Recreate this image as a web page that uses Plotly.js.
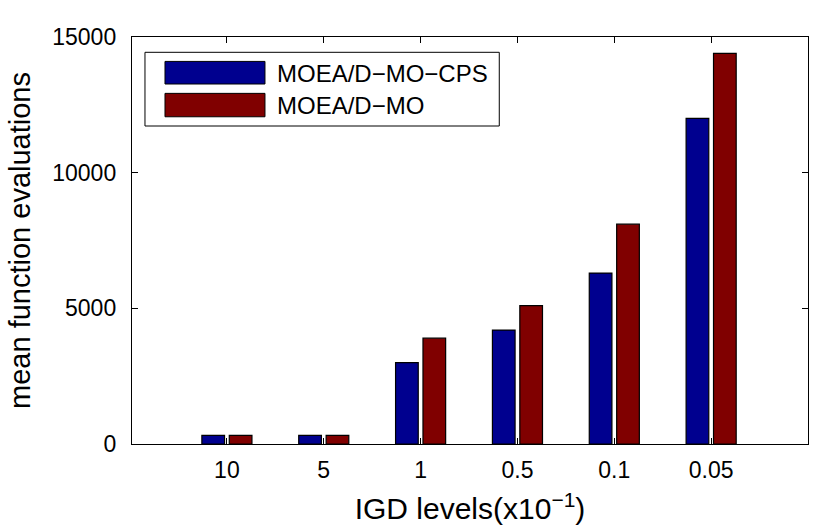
<!DOCTYPE html>
<html>
<head>
<meta charset="utf-8">
<script src="https://cdn.plot.ly/plotly-3.0.1.min.js"></script>
<style>
  html, body { margin: 0; padding: 0; background: #fff; }
  #myPlot { width: 830px; height: 532px; }
</style>
</head>
<body>
<div id="myPlot"></div>
<script>
// IGD levels (x10^-1)
let levels = ['10', '5', '1', '0.5', '0.1', '0.05'];
let names = ['MOEA/D\u2212MO\u2212CPS', 'MOEA/D\u2212MO'];
let cps = [320, 320, 3000, 4200, 6300, 12000];
let mo = [320, 320, 3900, 5100, 8100, 14400];
let yticks = [0, 5000, 10000, 15000];

let colors = ['#00008f', '#800000'];
let font = 'Liberation Sans, Arial, Helvetica, sans-serif';

var trace1 = {
  x: levels,
  y: cps,
  name: names[0],
  type: 'bar',
  marker: { color: colors[0], line: { color: '#000', width: 1.2 } }
};
var trace2 = {
  x: levels,
  y: mo,
  name: names[1],
  type: 'bar',
  marker: { color: colors[1], line: { color: '#000', width: 1.2 } }
};
var data = [trace1, trace2];

// legend drawn by hand, matlab style (wide swatches)
let shapes = [{
  type: 'rect', xref: 'paper', yref: 'paper',
  x0: 0.0192, x1: 0.5433, y0: 0.7813, y1: 0.9624,
  line: { color: '#000', width: 1 }, fillcolor: '#fff'
}];
let annotations = [];
let rows = [[0.8845, 0.940, 0.9115], [0.804, 0.8615, 0.8329]];
for (let i = 0; i < 2; i++) {
  shapes.push({
    type: 'rect', xref: 'paper', yref: 'paper',
    x0: 0.0488, x1: 0.1967, y0: rows[i][0], y1: rows[i][1],
    line: { color: '#000', width: 1 }, fillcolor: colors[i]
  });
  annotations.push({
    xref: 'paper', yref: 'paper', x: 0.2115, y: rows[i][2],
    xanchor: 'left', yanchor: 'middle', showarrow: false,
    text: names[i], font: { family: font, size: 24, color: '#000' }
  });
}

var layout = {
  width: 830,
  height: 532,
  margin: { l: 132, r: 22, t: 37, b: 88 },
  paper_bgcolor: '#fff',
  plot_bgcolor: '#fff',
  font: { family: font, color: '#000' },
  showlegend: false,
  barmode: 'group',
  bargap: 0.434,
  bargroupgap: 0.173,
  xaxis: {
    type: 'category',
    range: [-0.98, 6],
    showline: true, linecolor: '#000', linewidth: 1.2,
    mirror: 'ticks', ticks: 'inside', ticklen: 6, tickcolor: '#000',
    showgrid: false, zeroline: false,
    tickfont: { family: font, size: 23, color: '#000' },
    ticklabelstandoff: 5,
    title: {
      text: 'IGD levels(x10<sup>\u22121</sup>)',
      font: { family: font, size: 30, color: '#000' },
      standoff: 16
    },
    automargin: false
  },
  yaxis: {
    range: [0, 15000],
    tickvals: yticks,
    ticktext: yticks.map(String),
    showline: true, linecolor: '#000', linewidth: 1.2,
    mirror: 'ticks', ticks: 'inside', ticklen: 6, tickcolor: '#000',
    showgrid: false, zeroline: false,
    tickfont: { family: font, size: 23, color: '#000' },
    ticklabelstandoff: 10,
    title: {
      text: 'mean function evaluations',
      font: { family: font, size: 29, color: '#000' },
      standoff: 13
    },
    automargin: false
  },
  shapes: shapes,
  annotations: annotations
};

Plotly.newPlot('myPlot', data, layout, { displayModeBar: false, staticPlot: true });
</script>
</body>
</html>
